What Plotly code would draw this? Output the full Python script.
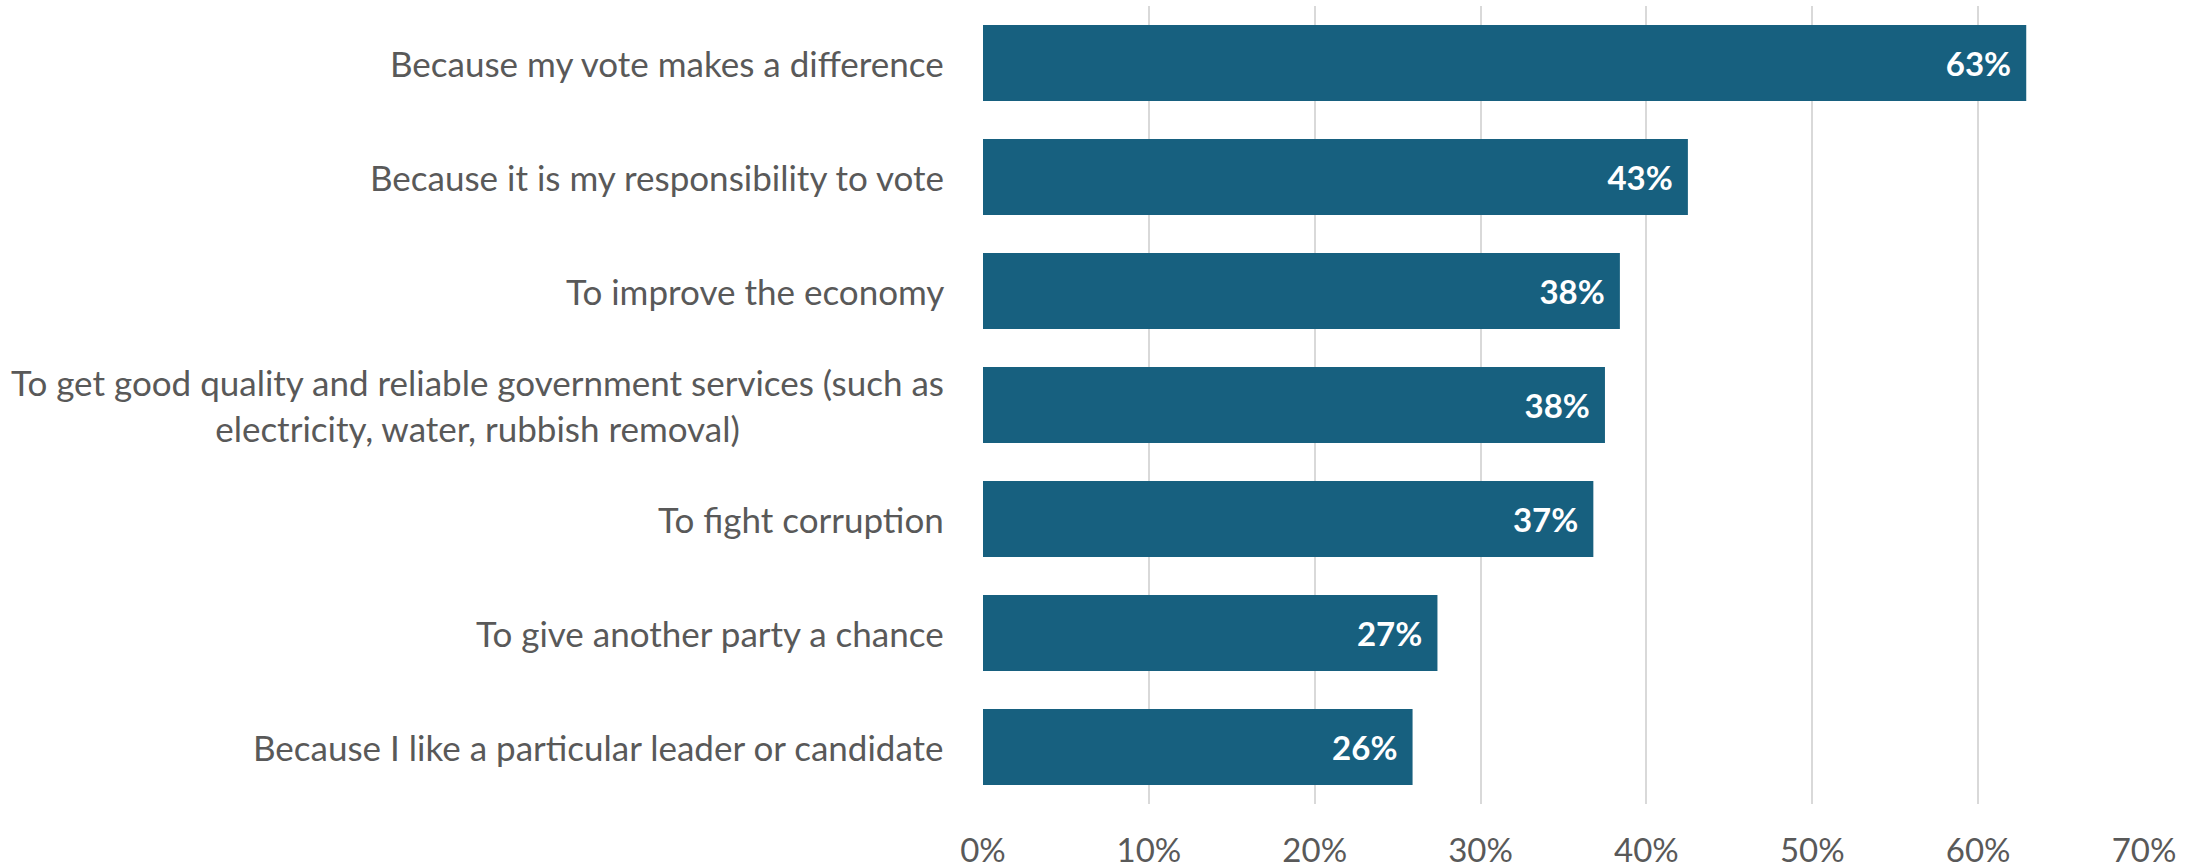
import plotly.graph_objects as go

categories = [
    "Because my vote makes a difference",
    "Because it is my responsibility to vote",
    "To improve the economy",
    "To get good quality and reliable government services (such as<br>electricity, water, rubbish removal)",
    "To fight corruption",
    "To give another party a chance",
    "Because I like a particular leader or candidate",
]
values = [62.9, 42.5, 38.4, 37.5, 36.8, 27.4, 25.9]
x_ticks = [0, 10, 20, 30, 40, 50, 60, 70]
x_tick_labels = ["0%", "10%", "20%", "30%", "40%", "50%", "60%", "70%"]

labels = [f"{int(v + 0.5)}%\u00a0\u2009" for v in values]

FONT = "Lato"
GRAY = "#595959"
BAR = "#17607F"

fig = go.Figure()
fig.add_trace(go.Bar(
    y=categories, x=values, orientation="h",
    marker=dict(color=BAR, line=dict(width=0)),
    text=labels, textposition="inside", insidetextanchor="end",
    textangle=0,
    insidetextfont=dict(family=FONT, size=33, color="white", weight="bold"),
    cliponaxis=False,
))

for c in categories:
    fig.add_annotation(
        x=0, xref="paper", y=c, yref="y", text=c, showarrow=False,
        xanchor="right", yanchor="middle", align="center", xshift=-37,
        font=dict(family=FONT, size=35, color=GRAY),
    )

fig.update_layout(
    width=2203, height=868,
    margin=dict(l=983, r=59, t=6, b=64, autoexpand=False),
    plot_bgcolor="white", paper_bgcolor="white",
    bargap=0.333, showlegend=False,
    font=dict(family=FONT, color=GRAY, size=33),
)
fig.update_xaxes(
    range=[0, 70], tickvals=x_ticks, ticktext=x_tick_labels,
    showgrid=True, gridcolor="#D9D9D9", gridwidth=2,
    zeroline=False, showline=False, ticks="",
    tickfont=dict(family=FONT, size=33, color=GRAY),
    ticklabelstandoff=24, automargin=False,
)
fig.update_yaxes(
    categoryorder="array", categoryarray=categories, autorange="reversed",
    showticklabels=False, showgrid=False, zeroline=False, showline=False, ticks="",
    automargin=False,
)

fig.write_html("out.html")
